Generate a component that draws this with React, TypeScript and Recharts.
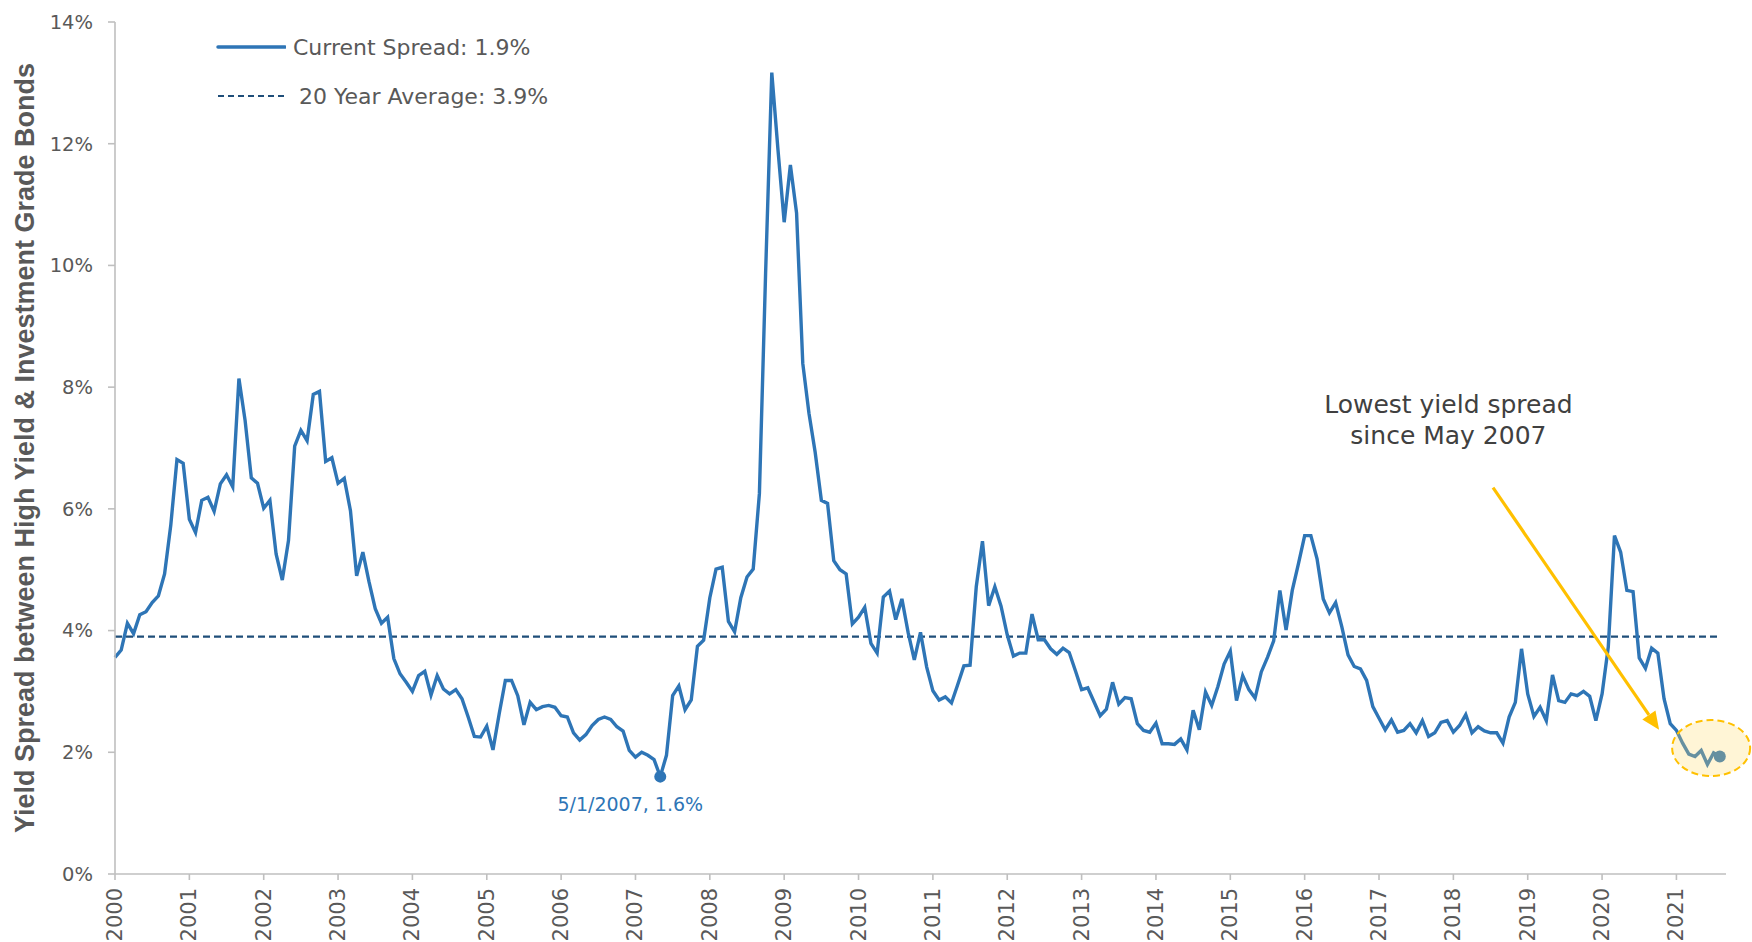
import React from 'react';
import { LineChart, Line, XAxis, YAxis, ReferenceLine, ReferenceDot } from 'recharts';

// monthly spread (%), Jan 2000 onward
const spread = [
  3.56, 3.68, 4.12, 3.95, 4.26, 4.31, 4.46, 4.57, 4.93, 5.73, 6.81, 6.75,
  5.83, 5.61, 6.14, 6.19, 5.96, 6.41, 6.56, 6.36, 8.14, 7.45, 6.51, 6.42,
  6.01, 6.14, 5.26, 4.83, 5.48, 7.03, 7.29, 7.12, 7.88, 7.93, 6.78, 6.84,
  6.42, 6.5, 5.97, 4.9, 5.29, 4.8, 4.36, 4.12, 4.22, 3.54, 3.29, 3.15,
  3.0, 3.26, 3.33, 2.94, 3.26, 3.04, 2.96, 3.03, 2.88, 2.58, 2.26, 2.25,
  2.43, 2.04, 2.63, 3.18, 3.18, 2.93, 2.45, 2.82, 2.7, 2.75, 2.77, 2.74,
  2.6, 2.58, 2.32, 2.2, 2.29, 2.44, 2.54, 2.58, 2.54, 2.42, 2.35, 2.03,
  1.92, 2.0, 1.95, 1.88, 1.6, 1.95, 2.93, 3.09, 2.7, 2.86, 3.74, 3.84,
  4.54, 5.01, 5.04, 4.15, 3.98, 4.54, 4.88, 5.01, 6.25, 9.87, 13.17, 11.9,
  10.71, 11.65, 10.86, 8.39, 7.57, 6.93, 6.14, 6.09, 5.15, 5.0, 4.93, 4.11,
  4.22, 4.38, 3.79, 3.63, 4.55, 4.65, 4.18, 4.52, 3.97, 3.52, 3.97, 3.4,
  3.01, 2.86, 2.91, 2.81, 3.11, 3.42, 3.43, 4.72, 5.47, 4.41, 4.72, 4.4,
  3.93, 3.58, 3.63, 3.63, 4.27, 3.85, 3.85, 3.7, 3.61, 3.71, 3.64, 3.34,
  3.03, 3.06, 2.83, 2.6, 2.71, 3.15, 2.79, 2.9, 2.88, 2.47, 2.36, 2.33,
  2.48, 2.14, 2.14, 2.13, 2.22, 2.04, 2.69, 2.37, 2.99, 2.77, 3.08, 3.45,
  3.66, 2.85, 3.26, 3.03, 2.89, 3.32, 3.56, 3.83, 4.66, 4.01, 4.66, 5.1,
  5.56, 5.56, 5.18, 4.52, 4.29, 4.46, 4.06, 3.6, 3.41, 3.37, 3.18, 2.75,
  2.56, 2.37, 2.53, 2.33, 2.36, 2.47, 2.32, 2.52, 2.26, 2.32, 2.49, 2.52,
  2.33, 2.44, 2.62, 2.32, 2.42, 2.35, 2.32, 2.32, 2.15, 2.58, 2.82, 3.7,
  2.96, 2.59, 2.74, 2.52, 3.27, 2.85, 2.82, 2.96, 2.93, 3.0, 2.92, 2.52,
  2.96, 3.73, 5.56, 5.29, 4.66, 4.64, 3.55, 3.38, 3.71, 3.63, 2.88, 2.47,
  2.36, 2.15, 1.97, 1.93, 2.03, 1.8, 1.99, 1.93,
];

const yearLabels = [
  '2000', '2001', '2002', '2003', '2004', '2005', '2006', '2007', '2008', '2009', '2010',
  '2011', '2012', '2013', '2014', '2015', '2016', '2017', '2018', '2019', '2020', '2021',
];
const yTicks = [0, 2, 4, 6, 8, 10, 12, 14];

const average = 3.9;
const lowMonth = 88;
const lowValue = 1.6;
const lowLabel = '5/1/2007, 1.6%';
const legendLabels = ['Current Spread: 1.9%', '20 Year Average: 3.9%'];
const noteLines = ['Lowest yield spread', 'since May 2007'];
// annotation anchors in (month, %) space
const notePos = { x: 215.2, y: 7.45 };
const arrowFrom = { x: 222.4, y: 6.35 };
const arrowTo = { x: 249.2, y: 2.37 };
const circlePos = { x: 257.6, y: 2.07 };

const data = spread.map((v, i) => ({ m: i, spread: v }));
const xTicks = yearLabels.map((_, i) => i * 12);
const lastMonth = spread.length - 1;

const BLUE = '#2E75B6';
const NAVY = '#1F4E79';
const GOLD = '#FFC000';
const GREY = '#595959';
const FONT = "'Century Gothic', 'DejaVu Sans', sans-serif";

const YearTick = (p: any) => (
  <text
    transform={`translate(${p.x},${p.y + 6}) rotate(-90)`}
    textAnchor="end"
    dominantBaseline="central"
    fill={GREY}
    fontSize={21}
    fontFamily={FONT}
  >
    {yearLabels[Math.round(p.payload.value / 12)]}
  </text>
);

const YTitle = (p: any) => {
  const vb = p.viewBox || { y: 22, height: 852 };
  const cy = vb.y + vb.height / 2;
  return (
    <text
      transform={`translate(25,${cy}) rotate(-90)`}
      textAnchor="middle"
      dominantBaseline="central"
      fill={GREY}
      fontSize={27}
      fontWeight="bold"
      fontFamily="'Liberation Sans', Arial, sans-serif"
    >
      Yield Spread between High Yield &amp; Investment Grade Bonds
    </text>
  );
};

const Arrow = (p: any) => {
  const { x1, y1, x2, y2 } = p;
  const a = Math.atan2(y2 - y1, x2 - x1);
  const len = 18;
  const half = 8;
  const bx = x2 - len * Math.cos(a);
  const by = y2 - len * Math.sin(a);
  const pts = [
    [x2, y2],
    [bx + half * Math.sin(a), by - half * Math.cos(a)],
    [bx - half * Math.sin(a), by + half * Math.cos(a)],
  ]
    .map((q) => q.join(','))
    .join(' ');
  return (
    <g>
      <line x1={x1} y1={y1} x2={bx} y2={by} stroke={GOLD} strokeWidth={3.2} />
      <polygon points={pts} fill={GOLD} />
    </g>
  );
};

const Note = (p: any) => (
  <text x={p.cx} y={p.cy} textAnchor="middle" fill="#404040" fontSize={25} fontFamily={FONT}>
    <tspan x={p.cx} dy={-8}>{noteLines[0]}</tspan>
    <tspan x={p.cx} dy={31}>{noteLines[1]}</tspan>
  </text>
);

const LowDot = (p: any) => (
  <g>
    <circle cx={p.cx} cy={p.cy} r={6} fill={BLUE} />
    <text
      x={p.cx - 30}
      y={p.cy + 27}
      textAnchor="middle"
      dominantBaseline="central"
      fill={BLUE}
      fontSize={19}
      fontFamily={FONT}
    >
      {lowLabel}
    </text>
  </g>
);

const EndDot = (p: any) => <circle cx={p.cx} cy={p.cy} r={6} fill={BLUE} />;

const Halo = (p: any) => (
  <ellipse
    cx={p.cx}
    cy={p.cy}
    rx={39}
    ry={28}
    fill="#FFD966"
    fillOpacity={0.27}
    stroke={GOLD}
    strokeWidth={2}
    strokeDasharray="7 4"
  />
);

const LegendBox = () => (
  <div style={{ position: 'absolute', left: 216, top: 30, fontFamily: FONT, color: GREY, fontSize: 22 }}>
    {legendLabels.map((label, i) => (
      <div key={label} style={{ display: 'flex', alignItems: 'center', height: 34, marginBottom: i === 0 ? 15 : 0 }}>
        <svg width={70} height={10} style={{ marginRight: i === 0 ? 7 : 13 }}>
          {i === 0 ? (
            <line x1={2} y1={5} x2={69} y2={5} stroke={BLUE} strokeWidth={3.5} strokeLinecap="round" />
          ) : (
            <line x1={2} y1={5} x2={69} y2={5} stroke={NAVY} strokeWidth={2.2} strokeDasharray="6 4" />
          )}
        </svg>
        <span>{label}</span>
      </div>
    ))}
  </div>
);

export default function App() {
  return (
    <div style={{ position: 'absolute', left: 0, top: 0, width: 1752, height: 942, background: '#fff' }}>
      <LineChart width={1752} height={942} data={data} margin={{ top: 22, right: 26, bottom: 0, left: 0 }}>
        <XAxis
          dataKey="m"
          type="number"
          domain={[0, 260]}
          ticks={xTicks}
          interval={0}
          height={68}
          tick={<YearTick />}
          tickSize={6}
          axisLine={{ stroke: '#BFBFBF', strokeWidth: 1.6 }}
          tickLine={{ stroke: '#BFBFBF', strokeWidth: 1.6 }}
        />
        <YAxis
          domain={[0, 14]}
          ticks={yTicks}
          interval={0}
          width={115}
          tickSize={7}
          tickMargin={15}
          tickFormatter={(v: number) => `${v}%`}
          tick={{ fill: GREY, fontSize: 19.5, fontFamily: FONT }}
          axisLine={{ stroke: '#BFBFBF', strokeWidth: 1.6 }}
          tickLine={{ stroke: '#BFBFBF', strokeWidth: 1.6 }}
          label={YTitle}
        />
        <ReferenceLine
          segment={[{ x: 0, y: average }, { x: lastMonth, y: average }]}
          stroke={NAVY}
          strokeWidth={2.2}
          strokeDasharray="7 4"
        />
        <Line
          dataKey="spread"
          type="linear"
          stroke={BLUE}
          strokeWidth={3.4}
          dot={false}
          activeDot={false}
          isAnimationActive={false}
        />
        <ReferenceDot x={lowMonth} y={lowValue} r={6} shape={LowDot} />
        <ReferenceDot x={lastMonth} y={spread[lastMonth]} r={6} shape={EndDot} />
        <ReferenceLine segment={[arrowFrom, arrowTo]} shape={Arrow} />
        <ReferenceDot x={notePos.x} y={notePos.y} r={0} shape={Note} />
        <ReferenceDot x={circlePos.x} y={circlePos.y} r={30} shape={Halo} zIndex={1500} />
      </LineChart>
      <LegendBox />
    </div>
  );
}
